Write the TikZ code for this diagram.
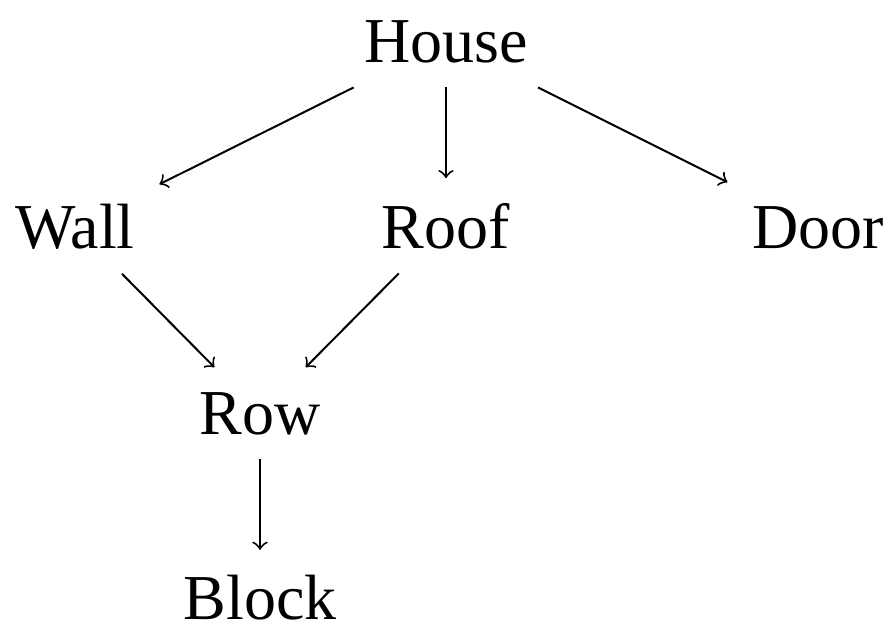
\documentclass[tikz,border=0pt]{standalone}
\usepackage{fontspec}
\setmainfont{Liberation Serif}
\begin{document}
\begin{tikzpicture}[x=0.25pt,y=-0.25pt,
    part/.style={font=\fontsize{16}{19}\selectfont,anchor=base,inner sep=6pt},
    madeof/.style={->,line width=0.5pt}]
    \useasboundingbox (0,0) rectangle (892,625);
    % parts of the house, one row per level
    \node[part] (house) at (446,62) {House};
    \node[part] (wall) at (75,248) {Wall};
    \node[part] (roof) at (446,248) {Roof};
    \node[part] (door) at (818,248) {Door};
    \node[part] (row) at (260,434) {Row};
    \node[part] (block) at (260,619) {Block};
    % what is made of what
    \draw[madeof] (house) -- (wall);
    \draw[madeof] (house) -- (roof);
    \draw[madeof] (house) -- (door);
    \draw[madeof] (wall) -- (row);
    \draw[madeof] (roof) -- (row);
    \draw[madeof] (row) -- (block);
\end{tikzpicture}
\end{document}
